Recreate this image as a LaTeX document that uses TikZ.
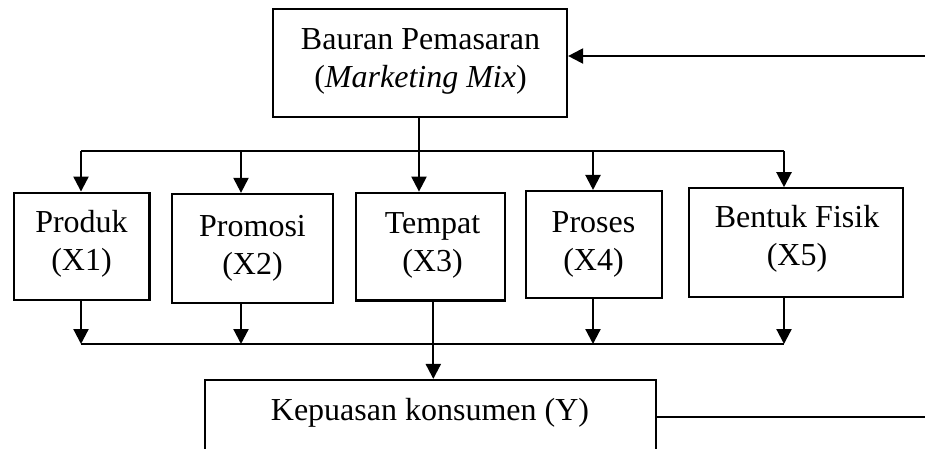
\documentclass[tikz,border=0pt]{standalone}
\usepackage{fontspec}
\setmainfont{Liberation Serif}
\usetikzlibrary{arrows.meta}
\begin{document}
\begin{tikzpicture}[x=1pt,y=-1pt,
  box/.style={draw,line width=2.2pt,rectangle,inner sep=0pt},
  txt/.style={anchor=base,align=center,inner sep=0pt,font=\fontsize{32}{38}\selectfont},
  ln/.style={line width=2.2pt},
  arr/.style={line width=2.2pt,-{Triangle[length=15pt,width=15pt]}}]
\clip (0,0) rectangle (925,448);
\fill[white] (0,0) rectangle (925,448);
% boxes
\node[box,minimum width=294pt,minimum height=108pt] (top) at (420,63) {};
\node[box,minimum width=135.5pt,minimum height=107.3pt] (prod) at (81.7,246.3) {};
\node[box,minimum width=161.6pt,minimum height=108.7pt] (prom) at (252.5,248.3) {};
\node[box,minimum width=149pt,minimum height=107.8pt] (temp) at (430.5,246.6) {};
\node[box,minimum width=136pt,minimum height=107.3pt] (proc) at (593.7,244.7) {};
\node[box,minimum width=214pt,minimum height=108.4pt] (bent) at (796.3,242.5) {};
\node[box,minimum width=451.3pt,minimum height=90pt] (kep) at (430.3,425) {};
% texts (anchor = baseline of the last line)
\node[txt] (ttop) at (420.5,87) {Bauran Pemasaran\\(\textit{Marketing Mix})};
\node[txt] (tprod) at (81.5,270) {Produk\\(X1)};
\node[txt] (tprom) at (252.5,274) {Promosi\\(X2)};
\node[txt] (ttemp) at (432.5,271.7) {Tempat\\(X3)};
\node[txt] (tproc) at (593.5,270) {Proses\\(X4)};
\node[txt] (tbent) at (797,265) {Bentuk Fisik\\(X5)};
\node[txt] (tkep) at (430,420) {Kepuasan konsumen (Y)};
% upper bus
\coordinate (u1) at (81,151);
\coordinate (u2) at (241,151);
\coordinate (u3) at (419,151);
\coordinate (u4) at (593,151);
\coordinate (u5) at (784,151);
\draw[ln] (top.south -| u3) -- (u3);
\draw[ln] (u1) -- (u5);
\draw[arr] (u1) -- (u1 |- prod.north);
\draw[arr] (u2) -- (u2 |- prom.north);
\draw[arr] (u3) -- (u3 |- temp.north);
\draw[arr] (u4) -- (u4 |- proc.north);
\draw[arr] (u5) -- (u5 |- bent.north);
% lower bus
\coordinate (l1) at (81,344);
\coordinate (l2) at (241,344);
\coordinate (l3) at (433.3,344);
\coordinate (l4) at (593,344);
\coordinate (l5) at (784,344);
\draw[ln] (l1) -- (l5);
\draw[arr] (l1 |- prod.south) -- (l1);
\draw[arr] (l2 |- prom.south) -- (l2);
\draw[arr] (l4 |- proc.south) -- (l4);
\draw[arr] (l5 |- bent.south) -- (l5);
\draw[arr] (l3 |- temp.south) -- (l3 |- kep.north);
% feedback
\coordinate (f1) at (925,56);
\coordinate (f2) at (925,417);
\draw[arr] (f1) -- (f1 -| top.east);
\draw[ln] (f2 -| kep.east) -- (f2);
\end{tikzpicture}
\end{document}
